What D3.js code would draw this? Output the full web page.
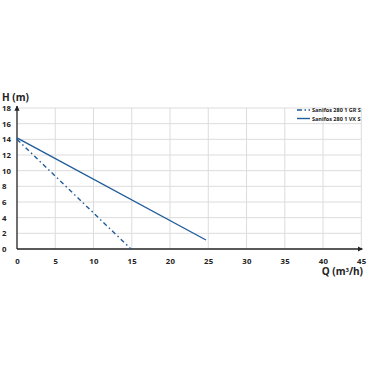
<!DOCTYPE html>
<meta charset="utf-8">
<style>
body { margin: 0; background: #fff; }
text { font-family: "Open Sans", sans-serif; font-weight: 700; fill: #222; }
.grid line { stroke: #dcdcdc; stroke-width: 1; }
</style>
<html>
<body>
<svg id="chart"></svg>
<script src="https://cdn.jsdelivr.net/npm/d3@7"></script>
<script>
'use strict'

const width = 370, height = 370

// curves
const seriesNames = ["Sanifos 280 1 GR S", "Sanifos 280 1 VX S"]
const grQ = [0, 14.9]
const grH = [14.0, 0]
const vxQ = [0, 24.7]
const vxH = [14.2, 1.15]
const xTicks = [0, 5, 10, 15, 20, 25, 30, 35, 40, 45]
const yTicks = [0, 2, 4, 6, 8, 10, 12, 14, 16, 18]

const color = "#1f5c99"

const svg = d3.select("#chart").attr("width", width).attr("height", height)

const x = d3.scaleLinear().domain([0, 45]).range([17, 361.3])
const y = d3.scaleLinear().domain([0, 18]).range([249, 108])

// grid
const grid = svg.append("g").attr("class", "grid")
grid.selectAll(".v").data(xTicks.slice(1)).enter().append("line")
  .attr("x1", d => x(d)).attr("x2", d => x(d))
  .attr("y1", y(0)).attr("y2", y(18))
grid.selectAll(".h").data(yTicks.slice(1)).enter().append("line")
  .attr("x1", x(0)).attr("x2", x(45))
  .attr("y1", d => y(d)).attr("y2", d => y(d))

// axes
svg.append("g")
  .attr("transform", "translate(0," + y(0) + ")")
  .call(d3.axisBottom(x).tickValues(xTicks).tickSize(0).tickPadding(9))
  .call(g => g.select(".domain").remove())
  .selectAll("text").style("font-size", "7.8px").attr("fill", "#222")
  .style("letter-spacing", "0.3px")

svg.append("g")
  .attr("transform", "translate(" + x(0) + ",0)")
  .call(d3.axisLeft(y).tickValues(yTicks).tickSize(0).tickPadding(8))
  .call(g => g.select(".domain").remove())
  .selectAll("text").style("font-size", "7.8px").attr("fill", "#222")
  .attr("text-anchor", "start").attr("x", -15)

// axis lines with arrows
svg.append("defs").append("marker")
  .attr("id", "arrow").attr("viewBox", "0 0 10 10")
  .attr("refX", 9).attr("refY", 5)
  .attr("markerWidth", 4).attr("markerHeight", 4)
  .attr("orient", "auto")
  .append("path").attr("d", "M0,0L10,5L0,10z").attr("fill", "#222")

svg.append("line")
  .attr("x1", x(0)).attr("y1", y(0)).attr("x2", x(45) + 1).attr("y2", y(0))
  .attr("stroke", "#222").attr("stroke-width", 1.3).attr("marker-end", "url(#arrow)")
svg.append("line")
  .attr("x1", x(0)).attr("y1", y(0)).attr("x2", x(0)).attr("y2", y(18) - 2)
  .attr("stroke", "#222").attr("stroke-width", 1.3).attr("marker-end", "url(#arrow)")

// axis titles
svg.append("text").attr("x", 2).attr("y", 101)
  .style("font-size", "10px").text("H (m)")
svg.append("text").attr("x", 363).attr("y", 275).attr("text-anchor", "end")
  .style("font-size", "10px")
  .html("Q (m<tspan dy='-3' style='font-size:6px'>3</tspan><tspan dy='3'>/h)</tspan>")

// curves
const line = d3.line().x(d => x(d[0])).y(d => y(d[1]))
svg.append("path")
  .datum(d3.zip(grQ, grH))
  .attr("d", line).attr("fill", "none").attr("stroke", color)
  .attr("stroke-width", 1.4).attr("stroke-dasharray", "4.5,3,1.5,3")
svg.append("path")
  .datum(d3.zip(vxQ, vxH))
  .attr("d", line).attr("fill", "none").attr("stroke", color)
  .attr("stroke-width", 1.4)

// legend
const legend = svg.append("g").attr("transform", "translate(297,110)")
const dashes = ["5,2.5,1.5,2.5", null]
seriesNames.forEach((name, i) => {
  legend.append("line")
    .attr("x1", 0).attr("x2", 13).attr("y1", i * 8.5).attr("y2", i * 8.5)
    .attr("stroke", color).attr("stroke-width", 1.4)
    .attr("stroke-dasharray", dashes[i])
  legend.append("text").attr("x", 15).attr("y", i * 8.5 + 2)
    .style("font-size", "5.5px").text(name)
})
</script>
</body>
</html>
